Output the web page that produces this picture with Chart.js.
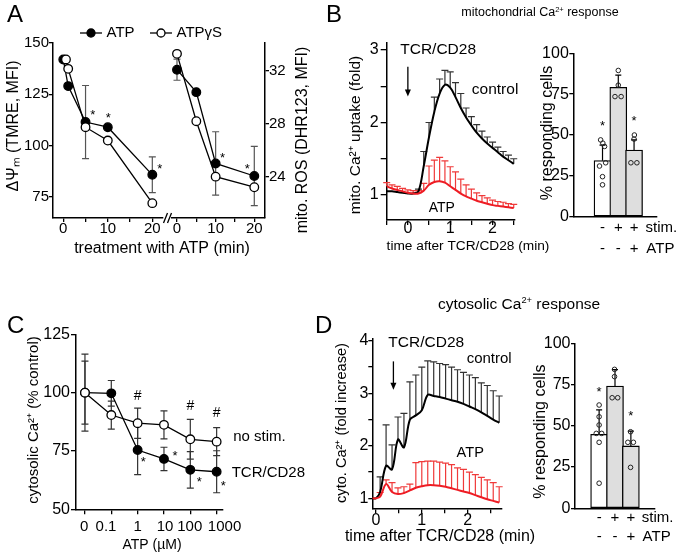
<!DOCTYPE html>
<html>
<head>
<meta charset="utf-8">
<script src="https://cdn.jsdelivr.net/npm/chart.js@4.4.0/dist/chart.umd.min.js"></script>
<style>
  html, body { margin: 0; padding: 0; background: #fff; }
  #page { position: relative; width: 693px; height: 554px; overflow: hidden;
          font-family: "Liberation Sans", Arial, Helvetica, sans-serif; color: #000; }
  #page canvas { position: absolute; left: 0; top: 0; }
  .lbl { position: absolute; line-height: 1; white-space: nowrap; }
  .lbl sup { font-size: 0.6em; vertical-align: 0.6em; line-height: 0; }
</style>
</head>
<body>
<div id="page">
  <canvas id="chartA1" width="693" height="554"></canvas>
  <canvas id="chartA2" width="693" height="554"></canvas>
  <canvas id="chartB1" width="693" height="554"></canvas>
  <canvas id="chartB2" width="693" height="554"></canvas>
  <canvas id="chartC" width="693" height="554"></canvas>
  <canvas id="chartD1" width="693" height="554"></canvas>
  <canvas id="chartD2" width="693" height="554"></canvas>

  <div class="lbl" style="left:7px;top:2px;font-size:24px">A</div>
  <div class="lbl" style="left:326px;top:2px;font-size:24px">B</div>
  <div class="lbl" style="left:7px;top:313px;font-size:24px">C</div>
  <div class="lbl" style="left:315px;top:313px;font-size:24px">D</div>
  <div class="lbl" style="left:540px;top:6px;font-size:12.5px;transform:translateX(-50%)">mitochondrial Ca<sup>2+</sup> response</div>
  <div class="lbl" style="left:519px;top:296px;font-size:15.5px;transform:translateX(-50%)">cytosolic Ca<sup>2+</sup> response</div>
</div>
<script>
// ---- A: membrane potential (left) and ROS (right) after ATP / ATPgS
const aTimeAtp = [0, 1.1, 5, 10, 20];
const aTimeAtpgs = [0.6, 1.1, 5, 10, 20];
const aTmreAtp = [142, 129, 111.5, 109, 85.8];
const aTmreAtpgs = [142, 137.4, 109, 102.5, 72];
const aTmreAtpErr = [0, 0, 17.8, 0, 8.7];
const aRosTime = [0, 5, 10, 20];
const aRosAtp = [32.1, 30.4, 25.0, 24.05];
const aRosAtpgs = [33.3, 28.2, 24.0, 23.2];
const aRosAtpErr = [0.8, 0, 2.4, 2.25];

// ---- B: mitochondrial Ca2+ time course and responding cells
const bTime = [-0.5, -0.375, -0.25, -0.125, 0, 0.125, 0.25, 0.375, 0.5, 0.625, 0.75, 0.875, 1,
               1.125, 1.25, 1.375, 1.5, 1.625, 1.75, 1.875, 2, 2.125, 2.25, 2.375, 2.5];
const bControl = [1.05, 1.05, 1.04, 1.03, 1.02, 1.02, 1.05, 1.4, 1.8, 2.15, 2.4, 2.52, 2.48,
                  2.35, 2.2, 2.07, 1.96, 1.86, 1.78, 1.71, 1.65, 1.59, 1.53, 1.48, 1.43];
const bControlErr = [0, 0, 0, 0, 0, 0, 0.03, 0.2, 0.2, 0.2, 0.2, 0.2, 0.22,
                     0.2, 0.2, 0.13, 0.12, 0.11, 0.1, 0.09, 0.08, 0.07, 0.07, 0.07, 0.07];
const bAtp = [1.12, 1.09, 1.07, 1.05, 1.03, 1.02, 1.02, 1.06, 1.14, 1.18, 1.19, 1.17, 1.12,
              1.07, 1.02, 0.98, 0.95, 0.92, 0.9, 0.88, 0.86, 0.85, 0.84, 0.83, 0.82];
const bAtpErr = [0.05, 0.05, 0.05, 0.04, 0.04, 0.04, 0.04, 0.1, 0.26, 0.3, 0.33, 0.3, 0.27,
                 0.25, 0.2, 0.16, 0.13, 0.11, 0.09, 0.08, 0.07, 0.06, 0.06, 0.05, 0.05];
const bBars = [34.3, 79.2, 40.8];
const bBarErr = [9.5, 7.5, 6.2];
const bDotX = [0.88, 1.02, 1.13, 0.81, 1.2, 1, 1, 2, 2, 1.79, 2.18, 3.02, 3, 2.8, 3.18];
const bDotY = [47, 45, 43, 31, 33, 24.5, 19.5, 89.5, 80.5, 73.5, 73.5, 50, 47.5, 33, 33];

// ---- C: cytosolic Ca2+ vs ATP dose
const cDose = ['0', '0.1', '1', '10', '100', '1000'];
const cNoStim = [100, 90.4, 86.9, 86.2, 80.0, 79.0];
const cNoStimErr = [13.5, 6, 6.5, 6, 8.5, 6];
const cStim = [100, 99.7, 75.4, 71.6, 66.9, 66.1];
const cStimErr = [16.5, 5.5, 10.5, 5, 7.8, 9];

// ---- D: cytosolic Ca2+ time course and responding cells
const dTime = [-0.08, 0, 0.09, 0.22, 0.35, 0.48, 0.61, 0.74, 0.87, 1.0, 1.13, 1.26,
               1.39, 1.52, 1.65, 1.78, 1.91, 2.04, 2.17, 2.3, 2.43, 2.56, 2.69];
const dControl = [1.0, 1.0, 1.12, 1.62, 1.55, 2.12, 1.97, 2.5, 2.58, 2.68, 2.97, 2.95,
                  2.93, 2.9, 2.87, 2.84, 2.8, 2.75, 2.7, 2.64, 2.57, 2.5, 2.44];
const dControlErr = [0, 0, 0.29, 0.78, 0.47, 0.43, 0.65, 0.72, 0.77, 0.82, 0.65, 0.65,
                     0.64, 0.65, 0.63, 0.61, 0.6, 0.6, 0.6, 0.56, 0.58, 0.55, 0.51];
const dAtp = [1.0, 1.0, 1.03, 1.27, 1.12, 1.08, 1.1, 1.15, 1.2, 1.23, 1.25, 1.25,
              1.24, 1.22, 1.19, 1.16, 1.13, 1.1, 1.06, 1.02, 0.98, 0.95, 0.92];
const dAtpErr = [0, 0, 0.08, 0.08, 0.18, 0.12, 0.12, 0.12, 0.48, 0.47, 0.46, 0.46,
                 0.45, 0.45, 0.45, 0.42, 0.42, 0.4, 0.39, 0.38, 0.37, 0.35, 0.3];
const dBars = [44.8, 74.1, 37.8];
const dBarErr = [14.8, 9.9, 9];
const dDotX = [1, 1, 1, 0.82, 1.16, 1, 1, 1.97, 1.97, 1.82, 2.17, 2.98, 2.81, 3.16, 2.98];
const dDotY = [62.6, 55.5, 50.5, 45.4, 45.4, 40, 15.2, 84.2, 79.8, 67, 67, 46.4, 40, 40, 24.8];

const W = 693, H = 554;
const FONT = '"Liberation Sans", Arial, Helvetica, sans-serif';
const RED = '#ee1c24', RED_ERR = '#f03a3a';

Chart.defaults.font.family = FONT;
Chart.defaults.color = '#000';
Chart.defaults.animation = false;
Chart.defaults.events = [];
Chart.defaults.plugins.legend.display = false;
Chart.defaults.plugins.tooltip.enabled = false;

const pts = (xs, ys) => xs.map((x, i) => ({ x: x, y: ys[i] }));

// error bars, drawn under the datasets
Chart.register({
  id: 'errorBars',
  beforeDatasetsDraw(chart) {
    const ctx = chart.ctx;
    chart.data.datasets.forEach((ds, i) => {
      if (!ds.errUp) return;
      const meta = chart.getDatasetMeta(i);
      const ys = chart.scales[meta.yAxisID];
      ctx.save();
      ctx.strokeStyle = ds.errColor || '#000';
      ctx.lineWidth = ds.errWidth || 1.2;
      meta.data.forEach((el, j) => {
        const up = ds.errUp[j] || 0;
        const dn = ds.errBoth ? up : 0;
        if (!up) return;
        const v = ds.data[j].y;
        const c = ds.errCap || 3.5;
        const y1 = ys.getPixelForValue(v + up), y2 = ys.getPixelForValue(v - dn);
        ctx.beginPath();
        ctx.moveTo(el.x, y1); ctx.lineTo(el.x, y2);
        ctx.moveTo(el.x - c, y1); ctx.lineTo(el.x + c, y1);
        if (dn) { ctx.moveTo(el.x - c, y2); ctx.lineTo(el.x + c, y2); }
        ctx.stroke();
      });
      ctx.restore();
    });
  }
});

// text, arrows and small marks tied to the scales (or to the page for titles)
Chart.register({
  id: 'notes',
  afterDraw(chart, args, opts) {
    const ctx = chart.ctx;
    const xs = chart.scales.x, ys = chart.scales.y;
    (opts.items || []).forEach(n => {
      const px = n.px !== undefined ? n.px : xs.getPixelForValue(n.x);
      const py = n.py !== undefined ? n.py : ys.getPixelForValue(n.y);
      ctx.save();
      if (n.kind === 'arrow') {
        const py2 = ys.getPixelForValue(n.y2);
        ctx.strokeStyle = '#000'; ctx.fillStyle = '#000'; ctx.lineWidth = 1.3;
        ctx.beginPath(); ctx.moveTo(px, py); ctx.lineTo(px, py2 - 6); ctx.stroke();
        ctx.beginPath(); ctx.moveTo(px - 3, py2 - 7); ctx.lineTo(px + 3, py2 - 7); ctx.lineTo(px, py2); ctx.closePath(); ctx.fill();
      } else if (n.kind === 'key') {
        ctx.strokeStyle = '#000'; ctx.lineWidth = 1.3;
        ctx.beginPath(); ctx.moveTo(px - 11, py); ctx.lineTo(px + 11, py); ctx.stroke();
        ctx.beginPath(); ctx.arc(px, py, 4, 0, Math.PI * 2);
        ctx.fillStyle = n.fill; ctx.fill(); ctx.stroke();
      } else if (n.kind === 'break') {
        ctx.strokeStyle = '#000'; ctx.lineWidth = 1.3;
        ctx.beginPath();
        ctx.moveTo(px - 4, py + 5); ctx.lineTo(px, py - 5);
        ctx.moveTo(px, py + 5); ctx.lineTo(px + 4, py - 5);
        ctx.stroke();
      } else {
        const size = n.size || 15;
        ctx.font = size + 'px ' + FONT;
        ctx.fillStyle = n.color || '#000';
        ctx.textAlign = n.align || 'center';
        ctx.textBaseline = 'middle';
        ctx.translate(px, py);
        if (n.rot) ctx.rotate(n.rot);
        ctx.fillText(n.text, 0, n.star ? size * 0.23 : 0);
      }
      ctx.restore();
    });
  }
});

function axis(o) {
  const names = new Map((o.labels || []).map(v => [String(v), o.fmt ? o.fmt(v) : String(v)]));
  return {
    type: 'linear', position: o.pos, min: o.min, max: o.max,
    border: { display: true, color: '#000', width: 1.5 },
    grid: { display: !o.noTicks, drawOnChartArea: false, drawTicks: true,
            tickLength: o.tl || 5, color: '#000', lineWidth: 1.3 },
    ticks: { autoSkip: false, maxRotation: 0, minRotation: 0, padding: o.pad || 0, color: '#000',
             font: { size: o.size || 16, lineHeight: 1 },
             callback: v => names.has(String(v)) ? names.get(String(v)) : '' },
    afterBuildTicks: s => { s.ticks = o.ticks.map(v => ({ value: v })); },
    afterFit: s => { if (s.isHorizontal()) s.height = 30; else s.width = 40; }
  };
}

function pad(a, yRight) {
  return yRight
    ? { left: a.l, right: W - a.r - 40, top: a.t, bottom: H - a.b - 30 }
    : { left: a.l - 40, right: W - a.r, top: a.t, bottom: H - a.b - 30 };
}

function make(id, area, datasets, scales, notes, yRight) {
  return new Chart(document.getElementById(id), {
    type: 'line',
    data: { datasets: datasets },
    options: {
      responsive: false, devicePixelRatio: 1,
      layout: { padding: pad(area, yRight) },
      scales: scales,
      plugins: { notes: { items: notes } }
    }
  });
}

const star = (x, y) => ({ text: '*', x: x, y: y, size: 13, star: true });
const rotTitle = (text, px, py, size) => ({ text: text, px: px, py: py, size: size, rot: -Math.PI / 2 });

// ---------- A left: TMRE
make('chartA1', { l: 53, t: 43, r: 163, b: 218 }, [
  { data: pts(aTimeAtpgs, aTmreAtpgs), order: 0, borderColor: '#000', borderWidth: 1.3,
    pointRadius: 4.3, pointBorderWidth: 1.3, pointBackgroundColor: '#fff', pointBorderColor: '#000' },
  { data: pts(aTimeAtp, aTmreAtp), order: 1, borderColor: '#000', borderWidth: 1.3,
    pointRadius: 4.3, pointBorderWidth: 1.3, pointBackgroundColor: '#000', pointBorderColor: '#000',
    errUp: aTmreAtpErr, errBoth: true, errColor: '#555', errCap: 3.5 }
], {
  x: axis({ pos: 'bottom', min: -2.31, max: 22.4, ticks: [0, 5, 10, 15, 20], labels: [0, 10, 20], size: 15, tl: 4, pad: -0.5 }),
  y: axis({ pos: 'left', min: 64.77, max: 150, ticks: [75, 100, 125, 150], labels: [75, 100, 125, 150], size: 15, tl: 4, pad: 0 })
}, [
  star(6.6, 116.1), star(10.1, 114.5), star(21.7, 89.8),
  { kind: 'key', px: 91, py: 33, fill: '#000' },
  { text: 'ATP', px: 106.5, py: 33, align: 'left', size: 15 },
  { kind: 'key', px: 161, py: 33, fill: '#fff' },
  { text: 'ATPγS', px: 176.5, py: 33, align: 'left', size: 15 },
  rotTitle('ΔΨₘ (TMRE, MFI)', 14, 126, 16),
  { text: 'treatment with ATP (min)', px: 162, py: 249, size: 16 }
]);

// ---------- A right: ROS
make('chartA2', { l: 172, t: 43, r: 265, b: 218 }, [
  { data: pts(aRosTime, aRosAtpgs), order: 0, borderColor: '#000', borderWidth: 1.3,
    pointRadius: 4.3, pointBorderWidth: 1.3, pointBackgroundColor: '#fff', pointBorderColor: '#000' },
  { data: pts(aRosTime, aRosAtp), order: 1, borderColor: '#000', borderWidth: 1.3,
    pointRadius: 4.3, pointBorderWidth: 1.3, pointBackgroundColor: '#000', pointBorderColor: '#000',
    errUp: aRosAtpErr, errBoth: true, errColor: '#555', errCap: 3.5 }
], {
  x: axis({ pos: 'bottom', min: -1.29, max: 22.77, ticks: [0, 5, 10, 15, 20], labels: [0, 10, 20], size: 15, tl: 4, pad: -0.5 }),
  y: axis({ pos: 'right', min: 20.87, max: 34.12, ticks: [24, 28, 32], labels: [24, 28, 32], size: 15, tl: 4, pad: 0 })
}, [
  star(11.8, 25.64), star(18.2, 24.8),
  { kind: 'break', px: 167.5, py: 218 },
  rotTitle('mito. ROS (DHR123, MFI)', 303, 140, 16)
], true);

// ---------- B left: mitochondrial Ca2+ trace
make('chartB1', { l: 386.7, t: 43, r: 515, b: 220 }, [
  { data: pts(bTime, bAtp), order: 0, borderColor: RED, borderWidth: 2, pointRadius: 0, tension: 0.35,
    errUp: bAtpErr, errColor: RED_ERR, errCap: 3.5 },
  { data: pts(bTime, bControl), order: 1, borderColor: '#000', borderWidth: 2, pointRadius: 0, tension: 0.35,
    errUp: bControlErr, errColor: '#333', errCap: 3.5 }
], {
  x: axis({ pos: 'bottom', min: -0.5, max: 2.53, ticks: [-0.5, 0, 0.5, 1, 1.5, 2, 2.5], labels: [0, 1, 2], tl: 5, pad: -4.3 }),
  y: axis({ pos: 'left', min: 0.655, max: 3.097, ticks: [1, 1.5, 2, 2.5, 3], labels: [1, 2, 3], tl: 6, pad: 2 })
}, [
  { text: 'TCR/CD28', x: -0.18, y: 3.0, align: 'left', size: 15.5 },
  { kind: 'arrow', x: 0, y: 2.77, y2: 2.36 },
  { text: 'control', x: 1.51, y: 2.45, align: 'left', size: 15.5 },
  { text: 'ATP', x: 0.8, y: 0.82, size: 14 },
  rotTitle('mito. Ca²⁺ uptake (fold)', 355.5, 135, 15.5),
  { text: 'time after TCR/CD28 (min)', px: 468, py: 246.5, size: 13.7 }
]);

// bar panels share this builder
function barChart(id, area, bars, errs, dotX, dotY, rowY, statX, stars, titleX, titleY) {
  return new Chart(document.getElementById(id), {
    type: 'bar',
    data: { datasets: [
      { type: 'scatter', data: pts(dotX, dotY), order: 0, pointRadius: 2.3, pointBorderWidth: 1,
        pointBorderColor: '#222', pointBackgroundColor: 'rgba(0,0,0,0)' },
      { type: 'bar', data: pts([1, 2, 3], bars), order: 1, barThickness: 17,
        backgroundColor: ['#ffffff', '#dedede', '#dedede'], borderColor: '#000', borderWidth: 1.3,
        borderSkipped: false, errUp: errs, errColor: '#000', errCap: 3 }
    ] },
    options: {
      responsive: false, devicePixelRatio: 1,
      layout: { padding: pad(area, false) },
      scales: {
        x: axis({ pos: 'bottom', min: area.xmin, max: area.xmax, ticks: [1, 2, 3], labels: [], noTicks: true }),
        y: axis({ pos: 'left', min: 0, max: 100, ticks: [0, 25, 50, 75, 100], labels: [0, 25, 50, 75, 100], tl: 4, pad: 0.5 })
      },
      plugins: { notes: { items: [
        star(1, stars[0]), star(3, stars[1]),
        { text: '-', x: 1, py: rowY[0] }, { text: '+', x: 2, py: rowY[0] }, { text: '+', x: 3, py: rowY[0] },
        { text: 'stim.', x: statX, py: rowY[0], align: 'left' },
        { text: '-', x: 1, py: rowY[1] }, { text: '-', x: 2, py: rowY[1] }, { text: '+', x: 3, py: rowY[1] },
        { text: 'ATP', x: statX + 0.05, py: rowY[1], align: 'left' },
        rotTitle('% responding cells', titleX, titleY, 16)
      ] } }
    }
  });
}

barChart('chartB2', { l: 573.3, t: 53.3, r: 657, b: 216.7, xmin: 0.032, xmax: 3.57 },
  bBars, bBarErr, bDotX, bDotY, [228, 248.5], 3.73, [57, 60], 547.8, 133);

// ---------- C: dose response (dose labels placed as in the figure)
const cLabelPos = [-0.03, 0.8, 2, 3.04, 3.98, 5.3];
make('chartC', { l: 76, t: 334.3, r: 222.7, b: 509.3 }, [
  { data: pts([0, 1, 2, 3, 4, 5], cNoStim), order: 0, borderColor: '#000', borderWidth: 1.3,
    pointRadius: 4.3, pointBorderWidth: 1.3, pointBackgroundColor: '#fff', pointBorderColor: '#000',
    errUp: cNoStimErr, errBoth: true, errColor: '#333', errCap: 3.5 },
  { data: pts([0, 1, 2, 3, 4, 5], cStim), order: 1, borderColor: '#000', borderWidth: 1.3,
    pointRadius: 4.3, pointBorderWidth: 1.3, pointBackgroundColor: '#000', pointBorderColor: '#000',
    errUp: cStimErr, errBoth: true, errColor: '#333', errCap: 3.5 }
], {
  x: axis({ pos: 'bottom', min: -0.34, max: 5.23, ticks: [0, 1, 2, 3, 4, 5], labels: [], tl: 5 }),
  y: axis({ pos: 'left', min: 50, max: 125, ticks: [50, 75, 100, 125], labels: [50, 75, 100, 125], tl: 5, pad: 1 })
}, [
  ...cDose.map((d, i) => ({ text: d, x: cLabelPos[i], py: 526.5, size: 15 })),
  { text: '#', x: 2, y: 98.3, size: 14 }, { text: '#', x: 4, y: 94, size: 14 }, { text: '#', x: 5, y: 91.3, size: 14 },
  star(2.21, 71.2), star(3.42, 74), star(4.34, 62.6), star(5.25, 61.2),
  { text: 'no stim.', x: 5.63, y: 81.1, align: 'left', size: 15 },
  { text: 'TCR/CD28', x: 5.57, y: 65.5, align: 'left', size: 15 },
  rotTitle('cytosolic Ca²⁺ (% control)', 34, 420, 15),
  { text: 'ATP (µM)', px: 152, py: 545, size: 14 }
]);

// ---------- D left: cytosolic Ca2+ trace
make('chartD1', { l: 372.3, t: 338.3, r: 501.7, b: 508.3 }, [
  { data: pts(dTime, dAtp), order: 0, borderColor: RED, borderWidth: 2, pointRadius: 0, tension: 0.35,
    errUp: dAtpErr, errColor: RED_ERR, errCap: 3.5 },
  { data: pts(dTime, dControl), order: 1, borderColor: '#000', borderWidth: 2, pointRadius: 0, tension: 0.35,
    errUp: dControlErr, errColor: '#333', errCap: 3.5 }
], {
  x: axis({ pos: 'bottom', min: -0.081, max: 2.745, ticks: [0, 0.5, 1, 1.5, 2, 2.5], labels: [0, 1, 2], tl: 5, pad: -0.3 }),
  y: axis({ pos: 'left', min: 0.809, max: 4.05, ticks: [1, 1.5, 2, 2.5, 3, 3.5, 4], labels: [1, 2, 3, 4], tl: 4, pad: 0 })
}, [
  { text: 'TCR/CD28', x: 0.27, y: 3.96, align: 'left', size: 15.5 },
  { kind: 'arrow', x: 0.38, y: 3.61, y2: 3.07 },
  { text: 'control', x: 1.98, y: 3.65, align: 'left', size: 15 },
  { text: 'ATP', x: 1.76, y: 1.87, align: 'left', size: 14.6 },
  rotTitle('cyto. Ca²⁺ (fold increase)', 341.7, 423, 14.6),
  { text: 'time after TCR/CD28 (min)', px: 440, py: 537, size: 16 }
]);

barChart('chartD2', { l: 575, t: 343.3, r: 655, b: 508.3, xmin: 0.32, xmax: 3.68 },
  dBars, dBarErr, dDotX, dDotY, [518, 537], 3.69, [72.3, 57.3], 540.8, 431.7);
</script>
</body>
</html>
